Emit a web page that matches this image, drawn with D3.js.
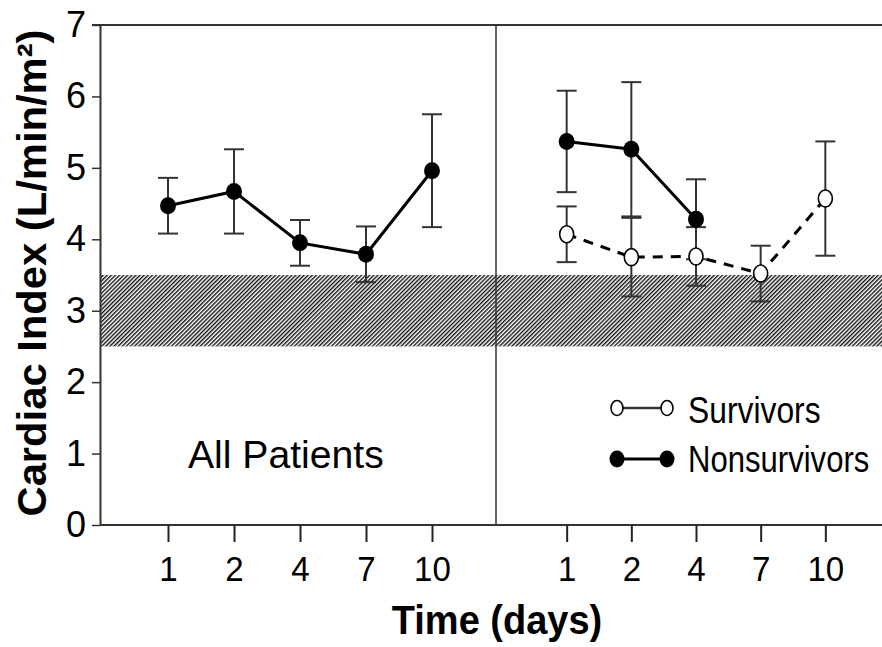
<!DOCTYPE html>
<html>
<head>
<meta charset="utf-8">
<script src="https://cdn.jsdelivr.net/npm/d3@7"></script>
<style>
  html, body { margin: 0; padding: 0; background: #fff; }
  svg { display: block; font-family: "Liberation Sans", Arial, Helvetica, sans-serif; }
</style>
</head>
<body>
<svg id="chart" width="882" height="647"></svg>
<script>
// Study days on the x axis
const days = ["1", "2", "4", "7", "10"];

// All patients: mean cardiac index and error (L/min/m²)
const allMean = [4.47, 4.67, 3.95, 3.79, 4.96];
const allErr  = [0.39, 0.59, 0.32, 0.39, 0.79];

// Survivors
const survMean = [4.07, 3.75, 3.76, 3.52, 4.57];
const survErr  = [0.39, 0.55, 0.41, 0.39, 0.80];

// Nonsurvivors (no data after day 4)
const nonMean = [5.37, 5.26, 4.28, null, null];
const nonErr  = [0.71, 0.94, 0.56, null, null];

// Normal reference range
const normalRange = [2.5, 3.5];

const yTicks = [0, 1, 2, 3, 4, 5, 6, 7];

const svg = d3.select("#chart");
const W = 882;
const plotLeft = 100, plotTop = 25, plotBottom = 525, divider = 496;

const y = d3.scaleLinear().domain([0, 7]).range([plotBottom, plotTop]);
const xL = d3.scalePoint().domain(days).range([plotLeft + 2, divider + 2]).padding(1);
const xR = d3.scalePoint().domain(days).range([divider + 6, W + 8]).padding(1);

// Hatch pattern for the normal range band
const defs = svg.append("defs");
const pat = defs.append("pattern")
  .attr("id", "hatch")
  .attr("patternUnits", "userSpaceOnUse")
  .attr("width", 2.9).attr("height", 10)
  .attr("patternTransform", "rotate(45)");
pat.append("rect").attr("width", 2.9).attr("height", 10).attr("fill", "#fff");
pat.append("rect").attr("width", 1.4).attr("height", 10).attr("fill", "#111");

svg.append("rect")
  .attr("x", plotLeft).attr("width", W - plotLeft)
  .attr("y", y(normalRange[1]))
  .attr("height", y(normalRange[0]) - y(normalRange[1]))
  .attr("fill", "url(#hatch)");

// Frame lines
const axisColor = "#333";
svg.append("line").attr("x1", plotLeft - 8).attr("x2", W).attr("y1", plotTop).attr("y2", plotTop)
  .attr("stroke", axisColor).attr("stroke-width", 2);
svg.append("line").attr("x1", plotLeft).attr("x2", W).attr("y1", plotBottom).attr("y2", plotBottom)
  .attr("stroke", axisColor).attr("stroke-width", 2);
svg.append("line").attr("x1", divider).attr("x2", divider).attr("y1", plotTop).attr("y2", plotBottom)
  .attr("stroke", axisColor).attr("stroke-width", 1.5);

// Y axis
const yAxis = svg.append("g").attr("transform", `translate(${plotLeft},0)`)
  .call(d3.axisLeft(y).tickValues(yTicks).tickFormat(d3.format("d"))
    .tickSize(8).tickSizeOuter(0).tickPadding(6));
yAxis.select(".domain").attr("stroke", axisColor).attr("stroke-width", 2);
yAxis.selectAll(".tick line").attr("stroke", axisColor).attr("stroke-width", 1.5);
yAxis.selectAll(".tick text").attr("font-size", 36).attr("fill", "#000")
  .attr("font-family", "Liberation Sans, Arial, sans-serif");

// X axes (one per panel)
[xL, xR].forEach(sc => {
  const g = svg.append("g").attr("transform", `translate(0,${plotBottom})`)
    .call(d3.axisBottom(sc).tickSize(17).tickSizeOuter(0).tickPadding(13));
  g.select(".domain").remove();
  g.selectAll(".tick line").attr("stroke", "#222").attr("stroke-width", 2);
  g.selectAll(".tick text").attr("font-size", 36).attr("fill", "#000")
    .attr("font-family", "Liberation Sans, Arial, sans-serif")
    .attr("transform", "scale(0.92,1)");
});

// Series drawing helpers
function errorBars(sc, mean, err) {
  const data = days.map((d, i) => ({ d, m: mean[i], e: err[i] })).filter(p => p.m != null);
  const g = svg.append("g").attr("stroke", "#333").attr("stroke-width", 2);
  data.forEach(p => {
    const cx = sc(p.d);
    g.append("line").attr("x1", cx).attr("x2", cx).attr("y1", y(p.m + p.e)).attr("y2", y(p.m - p.e));
    g.append("line").attr("x1", cx - 10).attr("x2", cx + 10).attr("y1", y(p.m + p.e)).attr("y2", y(p.m + p.e));
    g.append("line").attr("x1", cx - 10).attr("x2", cx + 10).attr("y1", y(p.m - p.e)).attr("y2", y(p.m - p.e));
  });
}
function seriesLine(sc, mean, dash) {
  const data = days.map((d, i) => ({ d, m: mean[i] })).filter(p => p.m != null);
  svg.append("path").datum(data)
    .attr("fill", "none").attr("stroke", "#000").attr("stroke-width", 3)
    .attr("stroke-dasharray", dash || null)
    .attr("d", d3.line().x(p => sc(p.d)).y(p => y(p.m)));
}
function filledPoints(sc, mean) {
  const data = days.map((d, i) => ({ d, m: mean[i] })).filter(p => p.m != null);
  svg.append("g").selectAll("ellipse").data(data).join("ellipse")
    .attr("cx", p => sc(p.d)).attr("cy", p => y(p.m))
    .attr("rx", 8).attr("ry", 8.5).attr("fill", "#000");
}
function openPoints(sc, mean) {
  const data = days.map((d, i) => ({ d, m: mean[i] })).filter(p => p.m != null);
  svg.append("g").selectAll("ellipse").data(data).join("ellipse")
    .attr("cx", p => sc(p.d)).attr("cy", p => y(p.m))
    .attr("rx", 7).attr("ry", 8.5).attr("fill", "#fff")
    .attr("stroke", "#000").attr("stroke-width", 1.6);
}

// Left panel: all patients
errorBars(xL, allMean, allErr);
seriesLine(xL, allMean);
filledPoints(xL, allMean);

// Right panel: survivors vs nonsurvivors
errorBars(xR, survMean, survErr);
errorBars(xR, nonMean, nonErr);
seriesLine(xR, survMean, "10,8");
seriesLine(xR, nonMean);
openPoints(xR, survMean);
filledPoints(xR, nonMean);

// Narrow text: regular glyphs squeezed horizontally
function narrowText(x, yPos, size, sx, str, weight) {
  return svg.append("text")
    .attr("transform", `translate(${x},${yPos}) scale(${sx},1)`)
    .attr("font-size", size).attr("font-weight", weight || "normal")
    .text(str);
}

// Panel label
narrowText(188, 468, 38, 1.03, "All Patients");

// Legend
const leg = svg.append("g");
leg.append("line").attr("x1", 617).attr("x2", 667).attr("y1", 408).attr("y2", 408)
  .attr("stroke", "#333").attr("stroke-width", 2.5);
leg.selectAll(".o").data([617, 667]).join("ellipse")
  .attr("cx", d => d).attr("cy", 408).attr("rx", 6).attr("ry", 7.5)
  .attr("fill", "#fff").attr("stroke", "#000").attr("stroke-width", 1.6);
leg.append("line").attr("x1", 617).attr("x2", 667).attr("y1", 459).attr("y2", 459)
  .attr("stroke", "#000").attr("stroke-width", 3);
leg.selectAll(".f").data([617, 667]).join("ellipse")
  .attr("cx", d => d).attr("cy", 459).attr("rx", 7.5).attr("ry", 8.5).attr("fill", "#000");
narrowText(688, 423, 37, 0.86, "Survivors");
narrowText(688, 472, 37, 0.84, "Nonsurvivors");

// Axis titles
svg.append("text")
  .attr("transform", "translate(46,273) rotate(-90)")
  .attr("text-anchor", "middle").attr("font-size", 41).attr("font-weight", "bold")
  .attr("textLength", 487).attr("lengthAdjust", "spacingAndGlyphs")
  .text("Cardiac Index (L/min/m²)");
svg.append("text")
  .attr("transform", "translate(497,634) scale(0.95,1)")
  .attr("text-anchor", "middle").attr("font-size", 40).attr("font-weight", "bold")
  .text("Time (days)");
</script>
</body>
</html>
